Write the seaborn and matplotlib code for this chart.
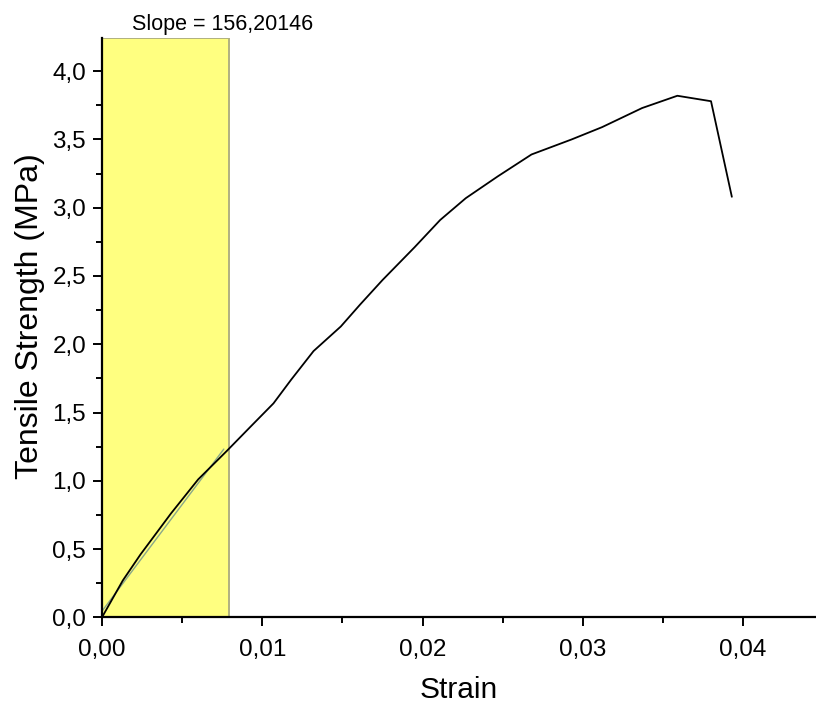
import numpy as np
import pandas as pd
import matplotlib
matplotlib.use("Agg")
import matplotlib.pyplot as plt
from matplotlib.ticker import MultipleLocator, FuncFormatter
import seaborn as sns

# Stress-strain record of the tensile test
strain = [0.0, 0.0013, 0.0024, 0.0043, 0.0060, 0.0078, 0.0093, 0.0107, 0.0118,
          0.0132, 0.0149, 0.0161, 0.0175, 0.0195, 0.0211, 0.0227,
          0.0247, 0.0268, 0.0293, 0.0312, 0.0337, 0.0359, 0.0380, 0.0393]
stress = [0.0, 0.27, 0.46, 0.76, 1.01, 1.22, 1.40, 1.567, 1.74,
          1.95, 2.13, 2.29, 2.47, 2.71, 2.91, 3.07,
          3.23, 3.39, 3.50, 3.59, 3.73, 3.82, 3.78, 3.08]

# Linear fit over the elastic region
fit_range = [0.0, 0.00795]
fit_slope = 156.20146
fit_intercept = 0.045
fit_x = [0.00003, 0.0076]

sns.set_style("ticks")
plt.rcParams["font.family"] = ["Liberation Sans", "DejaVu Sans"]
plt.rcParams["text.color"] = "black"
plt.rcParams["axes.labelcolor"] = "black"
plt.rcParams["xtick.color"] = "black"
plt.rcParams["ytick.color"] = "black"

df = pd.DataFrame({"Strain": strain, "Stress": stress})

fig = plt.figure(figsize=(8.16, 7.12), dpi=100)
ax = fig.add_axes([0.125, 0.133, 0.874, 0.814])

ax.axvspan(fit_range[0], fit_range[1], facecolor="#ffff80",
           edgecolor="#b0b080", linewidth=1.4, zorder=0)

sns.lineplot(data=df, x="Strain", y="Stress", sort=False, estimator=None,
             color="black", linewidth=1.3, ax=ax, zorder=3)

fx = np.array(fit_x)
ax.plot(fx, fit_intercept + fit_slope * fx, color="#8aa88a", linewidth=1.0,
        zorder=2)

ax.text(0.0019, 4.265, "Slope = 156,20146", fontsize=15.5, color="black",
        ha="left", va="bottom", clip_on=False)

ax.set_xlim(0, 0.0445)
ax.set_ylim(0, 4.245)

ax.xaxis.set_major_locator(MultipleLocator(0.01))
ax.xaxis.set_minor_locator(MultipleLocator(0.005))
ax.yaxis.set_major_locator(MultipleLocator(0.5))
ax.yaxis.set_minor_locator(MultipleLocator(0.25))
ax.xaxis.set_major_formatter(FuncFormatter(lambda v, p: f"{v:.2f}".replace(".", ",")))
ax.yaxis.set_major_formatter(FuncFormatter(lambda v, p: f"{v:.1f}".replace(".", ",")))

ax.tick_params(axis="both", which="major", length=6.5, width=1.4,
               labelsize=17.5, direction="out", color="black",
               labelcolor="black")
ax.tick_params(axis="both", which="minor", length=4, width=1.4,
               direction="out", color="black")
ax.tick_params(axis="x", which="major", pad=9)
ax.tick_params(axis="y", which="major", pad=5)

for side in ("top", "right"):
    ax.spines[side].set_visible(False)
for side in ("left", "bottom"):
    ax.spines[side].set_linewidth(1.6)
    ax.spines[side].set_color("black")

ax.set_xlabel("Strain", fontsize=21.5, labelpad=11, color="black")
ax.set_ylabel("Tensile Strength (MPa)", fontsize=23, color="black")
ax.yaxis.set_label_coords(-0.080, 0.52)

fig.savefig("out.png", dpi=100, facecolor="white")
